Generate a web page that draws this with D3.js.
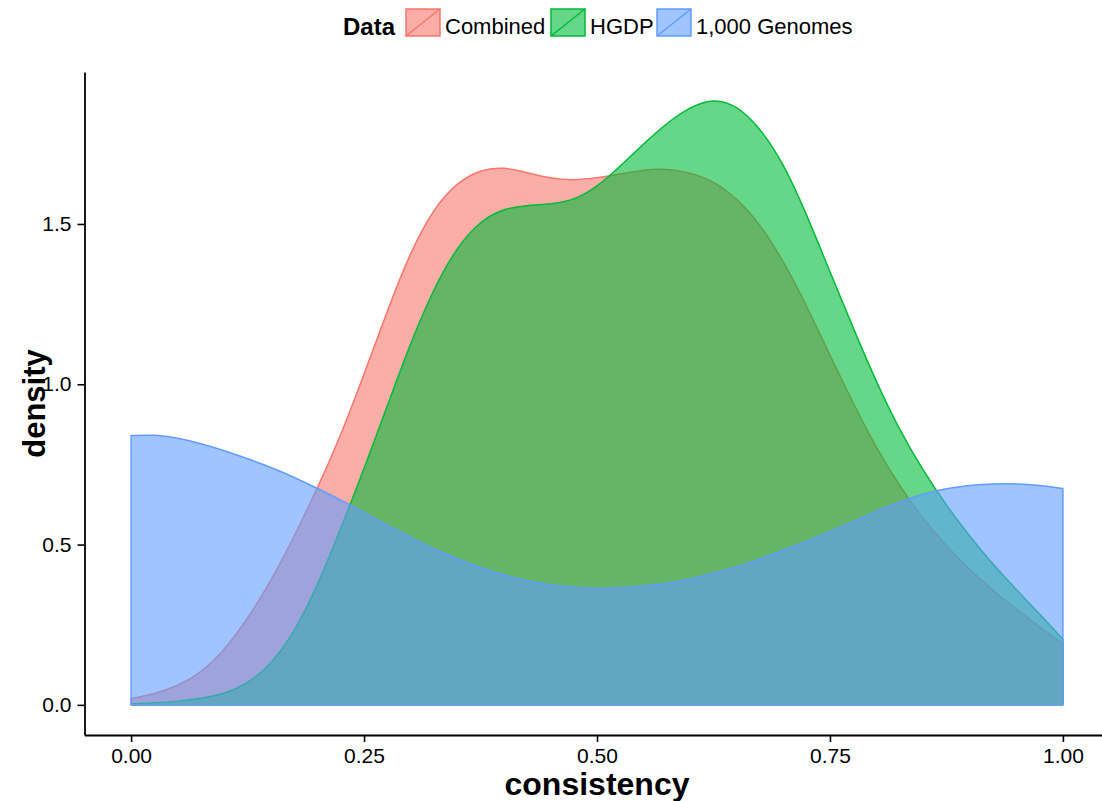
<!DOCTYPE html>
<html>
<head>
<meta charset="utf-8">
<script src="https://cdn.jsdelivr.net/npm/d3@7"></script>
<style>
  html, body { margin: 0; padding: 0; background: #fff; }
  svg { display: block; font-family: "Liberation Sans", Arial, Helvetica, sans-serif; }
</style>
</head>
<body>
<svg id="chart" width="1102" height="801"></svg>
<script>
// ---- data ----
const xs = [0, 0.025, 0.05, 0.075, 0.1, 0.125, 0.15, 0.175, 0.2, 0.225,
            0.25, 0.275, 0.3, 0.325, 0.35, 0.375, 0.4, 0.425, 0.45, 0.475,
            0.5, 0.525, 0.55, 0.575, 0.6, 0.625, 0.65, 0.675, 0.7, 0.725,
            0.75, 0.775, 0.8, 0.825, 0.85, 0.875, 0.9, 0.925, 0.95, 0.975, 1.0];

const combined = [0.02, 0.034, 0.058, 0.10, 0.17, 0.268, 0.385, 0.525, 0.675, 0.84,
                  1.03, 1.23, 1.415, 1.55, 1.63, 1.67, 1.678, 1.66, 1.642, 1.636,
                  1.643, 1.655, 1.67, 1.672, 1.66, 1.635, 1.58, 1.50, 1.385, 1.245,
                  1.09, 0.94, 0.80, 0.68, 0.58, 0.495, 0.421, 0.356, 0.298, 0.243, 0.19];

const hgdp = [0.003, 0.006, 0.011, 0.02, 0.034, 0.065, 0.125, 0.225, 0.37, 0.55,
              0.735, 0.933, 1.13, 1.30, 1.43, 1.51, 1.548, 1.558, 1.562, 1.573,
              1.615, 1.68, 1.75, 1.815, 1.865, 1.892, 1.87, 1.80, 1.69, 1.53,
              1.35, 1.175, 1.005, 0.855, 0.73, 0.622, 0.525, 0.438, 0.36, 0.283, 0.205];

const genomes = [0.84, 0.843, 0.833, 0.815, 0.793, 0.768, 0.741, 0.71, 0.675, 0.639,
                 0.6, 0.56, 0.522, 0.486, 0.455, 0.428, 0.405, 0.386, 0.374, 0.366,
                 0.363, 0.365, 0.37, 0.379, 0.392, 0.41, 0.43, 0.455, 0.482, 0.51,
                 0.54, 0.572, 0.605, 0.634, 0.658, 0.675, 0.685, 0.69, 0.69, 0.685, 0.675];

const seriesNames = ["Combined", "HGDP", "1,000 Genomes"];
const seriesColors = ["#F8766D", "#00BA38", "#619CFF"];
const xTicks = [0, 0.25, 0.5, 0.75, 1.0];
const yTicks = [0, 0.5, 1.0, 1.5];

// ---- layout ----
const svg = d3.select("#chart");
const x = d3.scaleLinear().domain([-0.05, 1.05]).range([84.5, 1109.5]);
const y = d3.scaleLinear().domain([-0.094, 1.974]).range([735, 72]);

const series = [combined, hgdp, genomes].map((vals, i) => ({
  name: seriesNames[i], color: seriesColors[i],
  pts: xs.map((xv, j) => ({ x: xv, d: vals[j] }))
}));

const area = d3.area()
  .x(p => x(p.x)).y0(y(0)).y1(p => y(p.d))
  .curve(d3.curveBasis);

const g = svg.append("g");
series.forEach(s => {
  g.append("path")
    .attr("d", area(s.pts))
    .attr("fill", s.color).attr("fill-opacity", 0.6)
    .attr("stroke", s.color).attr("stroke-width", 1.5)
    .attr("stroke-linejoin", "round");
});

// ---- axes ----
const axisColor = "#000";
const xAxis = svg.append("g").attr("transform", "translate(0,735)")
  .call(d3.axisBottom(x).tickValues(xTicks).tickFormat(d3.format(".2f")).tickSizeOuter(0).tickSizeInner(7).tickPadding(6));
const yAxis = svg.append("g").attr("transform", "translate(84.5,0)")
  .call(d3.axisLeft(y).tickValues(yTicks).tickFormat(d3.format(".1f")).tickSizeOuter(0).tickSizeInner(7).tickPadding(6));

[xAxis, yAxis].forEach(a => {
  a.select(".domain").attr("stroke", axisColor).attr("stroke-width", 1.8);
  a.selectAll(".tick line").attr("stroke", axisColor).attr("stroke-width", 1.6);
  a.selectAll(".tick text").attr("fill", "#000")
    .style("font-family", "'Liberation Sans', Arial, sans-serif").style("font-size", "21px");
});

// axis titles
svg.append("text")
  .attr("x", x(0.5)).attr("y", 795)
  .attr("text-anchor", "middle")
  .style("font-size", "32px").style("font-weight", "bold")
  .text("consistency");
svg.append("text")
  .attr("transform", `translate(45,${(72 + 735) / 2}) rotate(-90)`)
  .attr("text-anchor", "middle")
  .style("font-size", "31px").style("font-weight", "bold")
  .text("density");

// ---- legend ----
const leg = svg.append("g");
leg.append("text").attr("x", 343).attr("y", 35)
  .style("font-size", "24px").style("font-weight", "bold").text("Data");
const keyX = [406, 551, 657];
const keyW = 34, keyH = 27, keyY = 9;
series.forEach((s, i) => {
  const kx = keyX[i];
  leg.append("rect").attr("x", kx).attr("y", keyY).attr("width", keyW).attr("height", keyH)
    .attr("fill", s.color).attr("fill-opacity", 0.6)
    .attr("stroke", s.color).attr("stroke-width", 1.5);
  leg.append("line").attr("x1", kx).attr("y1", keyY + keyH).attr("x2", kx + keyW).attr("y2", keyY)
    .attr("stroke", s.color).attr("stroke-width", 1.5);
  leg.append("text").attr("x", kx + keyW + 5).attr("y", 34)
    .style("font-size", "22px").text(s.name);
});
</script>
</body>
</html>
